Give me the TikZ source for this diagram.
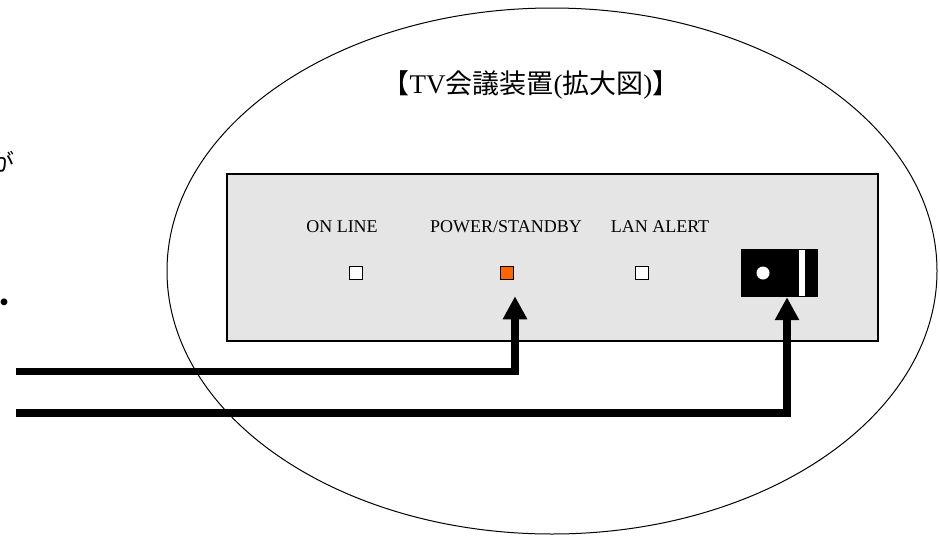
\documentclass[tikz,border=0pt]{standalone}
\usepackage{fontspec}
\setmainfont{Liberation Serif}
\newfontfamily\jpfont{Noto Sans CJK JP}
\usetikzlibrary{arrows.meta}
\definecolor{panelgray}{RGB}{229,229,229}
\definecolor{ledorange}{RGB}{255,102,0}
\tikzset{
led/.style={draw=black, line width=1.5pt, minimum size=13pt, inner sep=0pt},
wire/.style={line width=7.5pt, -{Triangle[width=23pt,length=23pt]}},
lbl/.style={font=\fontsize{18}{18}\selectfont, inner sep=0pt},
jp/.style={font=\jpfont\fontsize{24}{24}\selectfont, inner sep=0pt}
}
\begin{document}
\begin{tikzpicture}[x=1pt,y=-1pt]
\useasboundingbox (0,0) rectangle (940,536);
% cut-off text at the left edge
\node[jp, anchor=east] (cutchar) at (15,162) {が};
\node[jp, font=\jpfont\fontsize{32}{32}\selectfont] (cutdot) at (4,307) {・};
% magnifier
\draw[line width=1pt] (552,271) ellipse [x radius=385, y radius=263];
\node[font=\fontsize{27}{27}\selectfont] (title) at (531,85)
{{\jpfont 【}TV{\jpfont 会議装置}({\jpfont 拡大図}){\jpfont 】}};
% front panel
\draw[line width=2pt, fill=panelgray] (227,174) rectangle (878,341);
\node[lbl] (onlbl) at (342,227) {ON LINE};
\node[lbl] (pwrlbl) at (506,227) {POWER/STANDBY};
\node[lbl] (lanlbl) at (660,227) {LAN ALERT};
\node[led, fill=white] (online) at (356,273) {};
\node[led, fill=ledorange] (pwr) at (507,273) {};
\node[led, fill=white] (lan) at (642,273) {};
% power jack
\node[fill=black, minimum width=77pt, minimum height=48pt, inner sep=0pt] (jack) at (779.5,273) {};
\fill[white] (763,273) circle[radius=6.5pt];
\fill[white] (799,250) rectangle (805,296);
% cables
\coordinate (pwrin) at (16,371.5);
\coordinate (jackin) at (16,413);
\draw[wire] (pwrin) -| ([xshift=8pt,yshift=-16pt]pwr.south);
\draw[wire] (jackin) -| ([xshift=7.5pt]jack.south);
\end{tikzpicture}
\end{document}
